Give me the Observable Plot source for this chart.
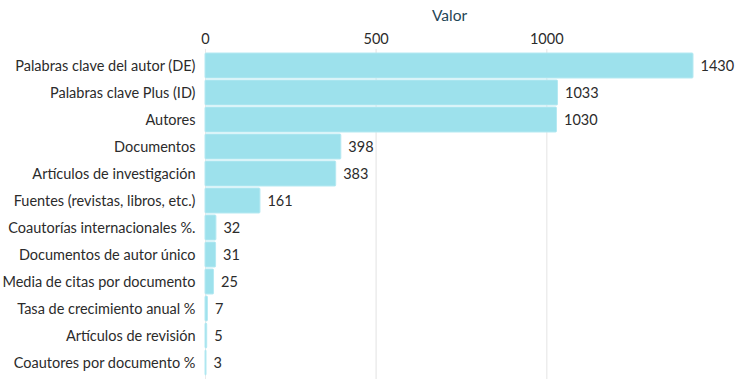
<!DOCTYPE html>
<html><head><meta charset="utf-8">
<script src="https://cdn.jsdelivr.net/npm/d3@7"></script>
<script src="https://cdn.jsdelivr.net/npm/@observablehq/plot@0.6"></script>
<style>body{margin:0;background:#fff;} svg{font-family:Lato,"Noto Sans",sans-serif;}</style>
</head><body><div id="chart"></div>
<script>
const categories = ["Palabras clave del autor (DE)","Palabras clave Plus (ID)","Autores","Documentos","Artículos de investigación","Fuentes (revistas, libros, etc.)","Coautorías internacionales %.","Documentos de autor único","Media de citas por documento","Tasa de crecimiento anual %","Artículos de revisión","Coautores por documento %"];
const values = [1430,1033,1030,398,383,161,32,31,25,7,5,3];
const xTicks = [0,500,1000];
const data = categories.map((c,i)=>({cat:c, val:values[i]}));
const chart = Plot.plot({
  width:735, height:382,
  marginLeft:205, marginRight:42, marginTop:49, marginBottom:3,
  style:{fontSize:"14.5px", color:"#2b2b2b", fontFamily:"Lato, 'Noto Sans', sans-serif"},
  x:{domain:[0,1430], axis:"top", ticks:xTicks, tickFormat:d=>String(d), grid:true, label:"Valor", labelAnchor:"center", labelArrow:"none", tickSize:0, tickPadding:6},
  y:{domain:categories, label:null, tickSize:0, tickPadding:10, padding:0.08},
  marks:[
    Plot.gridX(xTicks.slice(1),{stroke:"#ececec", strokeOpacity:1}),
    Plot.barX(data,{y:"cat", x:"val", fill:"#9de1ec", stroke:"#b5e9f2", strokeWidth:1, rx:1}),
    Plot.text(data,{y:"cat", x:"val", text:d=>String(d.val), textAnchor:"start", dx:7, fill:"#2b2b2b", fontSize:14.5})
  ]
});
document.getElementById("chart").appendChild(chart);
d3.select(chart).selectAll("g[aria-label='x-axis label'] text").attr("fill","#1f4656").attr("font-size","15.5px").attr("dy","0.45em");
</script></body></html>
